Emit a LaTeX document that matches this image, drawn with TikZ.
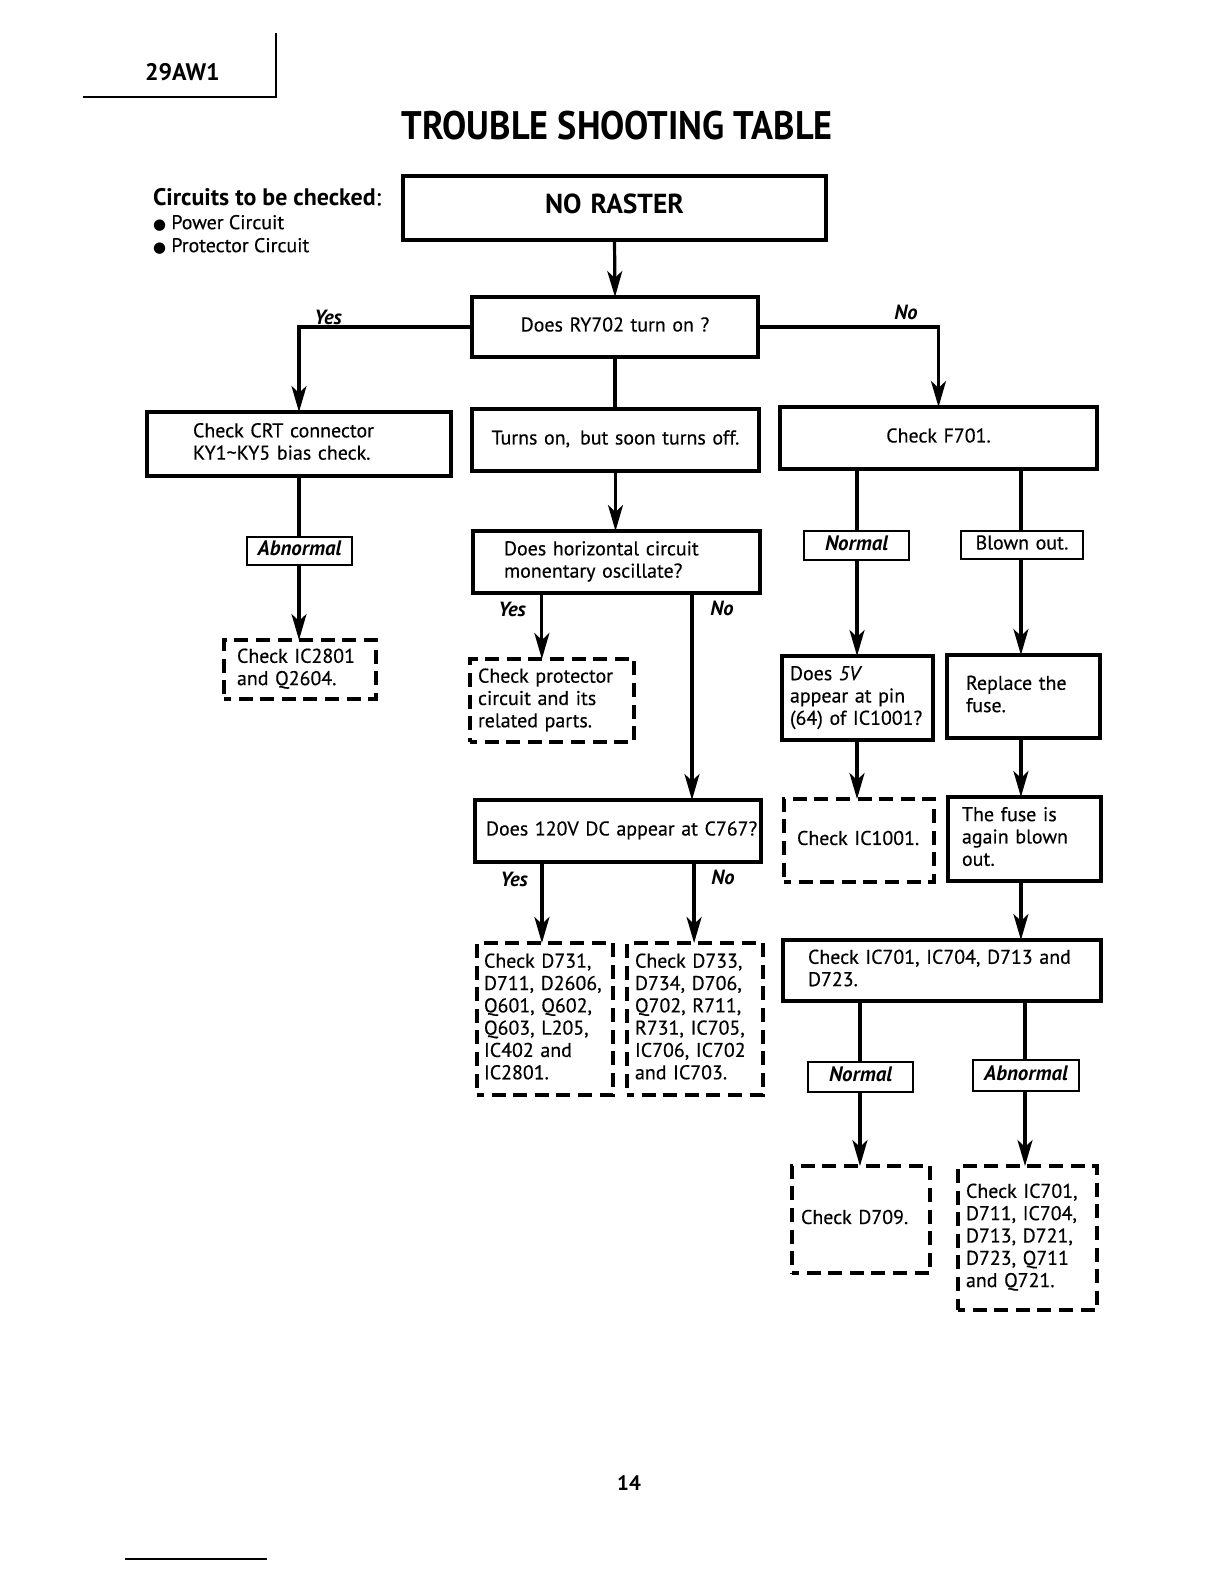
\documentclass[tikz,border=0pt]{standalone}
\usepackage{fontspec}
\setmainfont{PT Sans}[UprightFeatures={FakeBold=0.4},ItalicFeatures={FakeBold=0.4}]
\newfontfamily\dejavu{DejaVu Sans}
\usetikzlibrary{arrows.meta,calc}
\newcommand\bx[9]{%
  \pgfmathsetmacro\bw{(#4-#2)*0.5}%
  \pgfmathsetmacro\bh{(#5-#3)*0.5}%
  \pgfmathsetmacro\bp{#6*0.5}%
  \pgfmathsetmacro\tw{(#4-#2-2*#6)*0.5}%
  \node[#7, anchor=north west, minimum width=\bw bp, minimum height=\bh bp,%
        text width=\tw bp, inner xsep=\bp bp, inner ysep=0pt] (#1) at (#2,#3)%
        {\begin{tabular}{@{}#8@{}}#9\end{tabular}};}
\begin{document}%
\begin{tikzpicture}[x=0.5bp,y=-0.5bp,
  every node/.style={outer sep=0pt, font=\fontsize{10}{11.2}\selectfont},
  solidbox/.style={draw, line width=1.6bp},
  heavybox/.style={draw, line width=2.4bp, font=\fontsize{13.8}{15}\selectfont\bfseries},
  dashbox/.style={draw, line width=1.8bp, dash pattern=on 7bp off 3.8bp, dash phase=3.5bp},
  tagbox/.style={draw, line width=0.8bp, font=\fontsize{10.5}{12}\selectfont\bfseries\itshape},
  thinbox/.style={draw, line width=0.8bp},
  lbl/.style={inner sep=0pt, font=\fontsize{10.3}{12}\selectfont\bfseries\itshape},
  conn/.style={line width=1.6bp},
  arr/.style={conn, -{Stealth[length=13bp,width=7.5bp,inset=3.5bp]}},
  L/.style={align=left}, C/.style={align=center}
]
\useasboundingbox (0,0) rectangle (1224,1584);

% header
\draw[line width=1bp] (83,97) -- (276,97) -- (276,33);
\node[anchor=west, inner sep=0pt, font=\fontsize{12}{13}\selectfont\bfseries] (model) at (145,72) {29AW1};
\node[inner sep=0pt, font=\fontsize{20}{24}\selectfont\bfseries] (title) at (617,126) {\scalebox{0.91}[1]{TROUBLE SHOOTING TABLE}};
\node[anchor=west, inner sep=0pt, font=\fontsize{12}{14}\selectfont\bfseries] (circ) at (153,197) {Circuits to be checked\textnormal{:}};
\node[anchor=west, inner sep=0pt] (pc) at (153,223) {{\dejavu\fontsize{7.5}{8}\selectfont ●}\ Power Circuit};
\node[anchor=west, inner sep=0pt] (prc) at (153,246) {{\dejavu\fontsize{7.5}{8}\selectfont ●}\ Protector Circuit};

% boxes
\bx{nr}{403}{176}{826}{240}{0}{heavybox,C}{c}{NO RASTER}
\bx{ry}{472}{297}{758}{357}{0}{solidbox,C}{c}{Does RY702 turn on ?}
\bx{crt}{147}{412}{451}{476}{46}{solidbox,L}{l}{Check CRT connector\\KY1\textasciitilde KY5 bias check.}
\bx{turns}{472}{409}{759}{471}{0}{solidbox,C}{c}{Turns on,\enspace but soon turns off.}
\bx{f701}{780}{407}{1097}{469}{0}{solidbox,C}{c}{Check F701.}
\bx{abn1}{247}{537}{352}{565}{0}{tagbox,C}{c}{Abnormal}
\bx{ic2801}{224}{640}{376}{699}{13}{dashbox,L}{l}{Check IC2801\\and Q2604.}
\bx{horiz}{473}{531}{760}{593}{31}{solidbox,L}{l}{Does horizontal circuit\\monentary oscillate?}
\bx{prot}{470}{659}{634}{742}{8}{dashbox,L}{l}{Check protector\\circuit and its\\related parts.}
\bx{v120}{475}{800}{761}{862}{11}{solidbox,L}{l}{Does 120V DC appear at C767?}
\bx{d731}{477}{943}{613}{1095}{7}{dashbox,L}{l}{Check D731,\\D711, D2606,\\Q601, Q602,\\Q603, L205,\\IC402 and\\IC2801.}
\bx{d733}{627}{943}{763}{1095}{8}{dashbox,L}{l}{Check D733,\\D734, D706,\\Q702, R711,\\R731, IC705,\\IC706, IC702\\and IC703.}
\bx{norm1}{804}{531}{909}{560}{0}{tagbox,C}{c}{Normal}
\bx{blown}{961}{531}{1083}{559}{0}{thinbox,C}{c}{Blown out.}
\bx{q5v}{782}{656}{933}{740}{8}{solidbox,L}{l}{Does \textit{5V}\\appear at pin\\(64) of IC1001?}
\bx{replace}{947}{655}{1100}{738}{19}{solidbox,L}{l}{Replace the\\fuse.}
\bx{ic1001}{784}{799}{934}{882}{13}{dashbox,L}{l}{Check IC1001.}
\bx{fuse}{948}{797}{1101}{881}{14}{solidbox,L}{l}{The fuse is\\again blown\\out.}
\bx{ic701}{783}{940}{1101}{1001}{25}{solidbox,L}{l}{Check IC701, IC704, D713 and\\D723.}
\bx{norm2}{808}{1062}{913}{1092}{0}{tagbox,C}{c}{Normal}
\bx{abn2}{973}{1060}{1079}{1091}{0}{tagbox,C}{c}{Abnormal}
\bx{d709}{792}{1166}{930}{1273}{9}{dashbox,L}{l}{Check D709.}
\bx{ic701b}{958}{1166}{1097}{1310}{8}{dashbox,L}{l}{Check IC701,\\D711, IC704,\\D713, D721,\\D723, Q711\\and Q721.}

% branch points
\coordinate (hyes) at ($(horiz.south west)!0.240!(horiz.south east)$);
\coordinate (hno)  at ($(horiz.south west)!0.763!(horiz.south east)$);
\coordinate (vyes) at ($(v120.south west)!0.234!(v120.south east)$);
\coordinate (vno)  at ($(v120.south west)!0.766!(v120.south east)$);
\coordinate (fl) at ($(f701.south west)!0.243!(f701.south east)$);
\coordinate (fr) at ($(f701.south west)!0.760!(f701.south east)$);
\coordinate (il) at ($(ic701.south west)!0.242!(ic701.south east)$);
\coordinate (ir) at ($(ic701.south west)!0.761!(ic701.south east)$);

% connectors
\draw[arr] (nr.south) -- (ry.north);
\draw[arr] (ry.west) -| (crt.north);
\draw[arr] (ry.east) -| (f701.north);
\draw[conn] (ry.south) -- (ry.south |- turns.north);
\draw[conn] (crt.south) -- (crt.south |- abn1.north);
\draw[arr] (abn1.south -| crt.south) -- (crt.south |- ic2801.north);
\draw[arr] (turns.south) -- (turns.south |- horiz.north);
\draw[arr] (hyes) -- (hyes |- prot.north);
\draw[arr] (hno) -- (hno |- v120.north);
\draw[arr] (vyes) -- (vyes |- d731.north);
\draw[arr] (vno) -- (vno |- d733.north);
\draw[conn] (fl) -- (fl |- norm1.north);
\draw[arr] (norm1.south -| fl) -- (fl |- q5v.north);
\draw[conn] (fr) -- (fr |- blown.north);
\draw[arr] (blown.south -| fr) -- (fr |- replace.north);
\draw[arr] (q5v.south -| fl) -- (fl |- ic1001.north);
\draw[arr] (replace.south -| fr) -- (fr |- fuse.north);
\draw[arr] (fuse.south -| fr) -- (fr |- ic701.north);
\draw[conn] (il) -- (il |- norm2.north);
\draw[arr] (norm2.south -| il) -- (il |- d709.north);
\draw[conn] (ir) -- (ir |- abn2.north);
\draw[arr] (abn2.south -| ir) -- (ir |- ic701b.north);

% branch labels
\node[lbl] (y1) at (328,317) {Yes};
\node[lbl] (n1) at (906,312) {No};
\node[lbl] (y2) at (512,609) {Yes};
\node[lbl] (n2) at (722,608) {No};
\node[lbl] (y3) at (514,879) {Yes};
\node[lbl] (n3) at (723,877) {No};

% page number and foot rule
\node[inner sep=0pt, font=\fontsize{10.5}{12}\selectfont\bfseries] (page) at (629,1483) {14};
\draw[line width=0.6bp] (125,1559) -- (267,1559);
\end{tikzpicture}%
\end{document}
